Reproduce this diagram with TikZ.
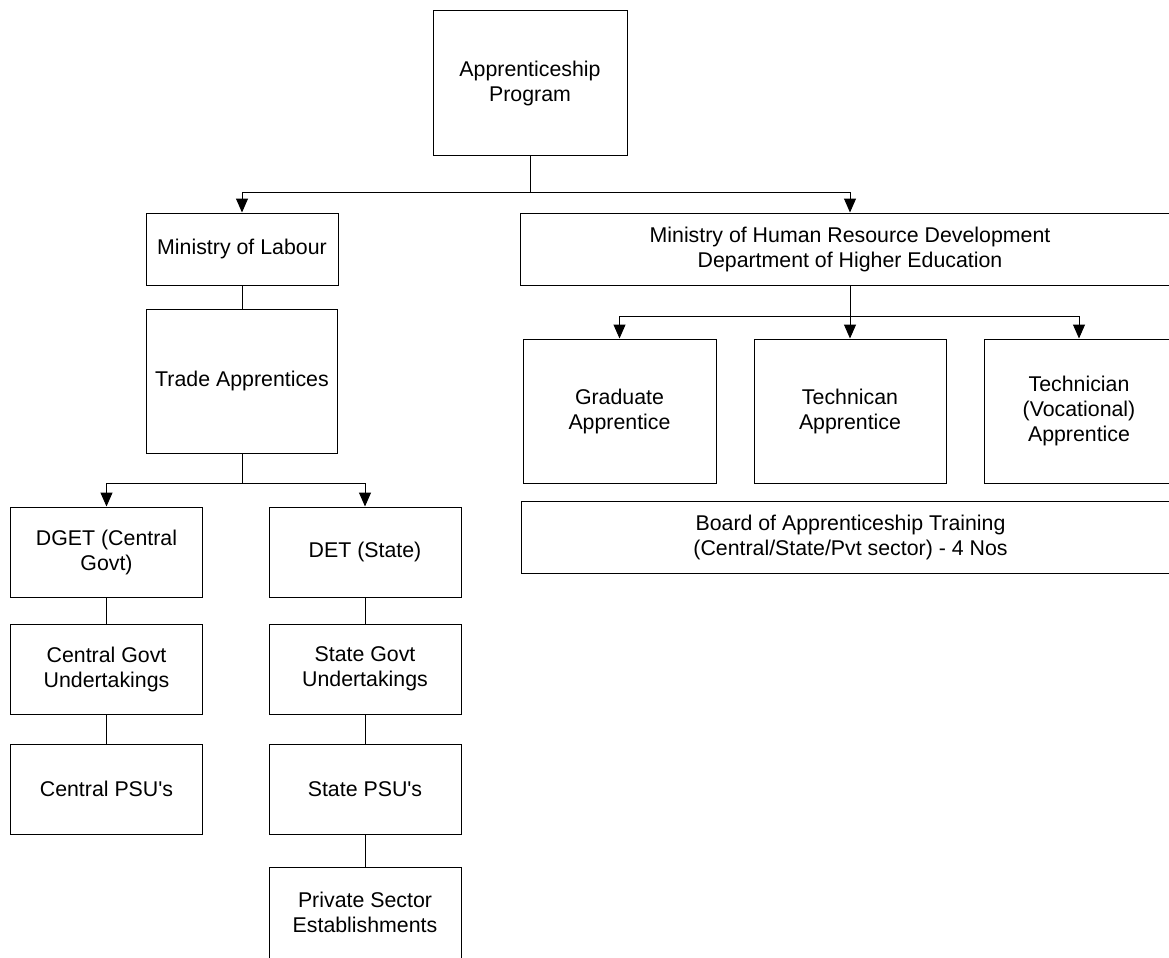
\documentclass[tikz,border=0pt]{standalone}
\usepackage{fontspec}
\setmainfont{Liberation Sans}
\usetikzlibrary{arrows.meta}
\tikzset{
  box/.style={draw=black, line width=0.75pt, fill=white, align=center, inner sep=2pt,
    font=\fontsize{16}{18.75}\selectfont, text=black},
  conn/.style={draw=black, line width=0.75pt},
  arr/.style={conn, -{Triangle[length=10.5pt, width=9pt]}},
}
\begin{document}
\begin{tikzpicture}[x=0.75pt, y=-0.75pt]
\useasboundingbox (0,0) rectangle (1169,957);
% top
\node[box, minimum width=145.5pt, minimum height=108.75pt] (ap) at (530,83) {Apprenticeship\\Program};
\node[box, minimum width=144pt, minimum height=54pt] (mol) at (242,249) {Ministry of Labour};
\node[box, minimum width=495pt, minimum height=54pt] (mhrd) at (850,249) {Ministry of Human Resource Development\\Department of Higher Education};
% left branch
\node[box, minimum width=143.5pt, minimum height=108pt] (trade) at (242,381) {Trade Apprentices};
\node[box, minimum width=143.5pt, minimum height=67.5pt] (dget) at (106.5,552) {DGET (Central\\Govt)};
\node[box, minimum width=143.5pt, minimum height=67.5pt] (cgu) at (106.5,669) {Central Govt\\Undertakings};
\node[box, minimum width=143.5pt, minimum height=67.5pt] (cpsu) at (106.5,789) {Central PSU\textquotesingle s};
\node[box, minimum width=144pt, minimum height=67.5pt] (det) at (365,552) {DET (State)};
\node[box, minimum width=144pt, minimum height=67.5pt] (sgu) at (365,669) {State Govt\\Undertakings};
\node[box, minimum width=144pt, minimum height=67.5pt] (spsu) at (365,789) {State PSU\textquotesingle s};
\node[box, minimum width=144pt, minimum height=68.25pt] (pse) at (365,912.5) {Private Sector\\Establishments};
% right branch
\node[box, minimum width=144.75pt, minimum height=108pt] (grad) at (619.5,411) {Graduate\\Apprentice};
\node[box, minimum width=144pt, minimum height=108pt] (tech) at (850,411) {Technican\\Apprentice};
\node[box, minimum width=142.5pt, minimum height=108pt] (voc) at (1079,411) {Technician\\(Vocational)\\Apprentice};
\node[box, minimum width=494.25pt, minimum height=54pt] (board) at (850.5,537) {Board of Apprenticeship Training\\(Central/State/Pvt sector) - 4 Nos};
% junctions
\coordinate (j1) at (530,192);
\coordinate (j2) at (242,483);
\coordinate (j3) at (850,316);
% connectors
\draw[conn] (ap.south) -- (j1);
\draw[arr] (j1) -| (mol.north);
\draw[arr] (j1) -| (mhrd.north);
\draw[conn] (mol.south) -- (trade.north);
\draw[conn] (trade.south) -- (j2);
\draw[arr] (j2) -| (dget.north);
\draw[arr] (j2) -| (det.north);
\draw[conn] (dget.south) -- (cgu.north);
\draw[conn] (cgu.south) -- (cpsu.north);
\draw[conn] (det.south) -- (sgu.north);
\draw[conn] (sgu.south) -- (spsu.north);
\draw[conn] (spsu.south) -- (pse.north);
\draw[conn] (mhrd.south) -- (j3);
\draw[arr] (j3) -| (grad.north);
\draw[arr] (j3) -- (tech.north);
\draw[arr] (j3) -| (voc.north);
\end{tikzpicture}
\end{document}
